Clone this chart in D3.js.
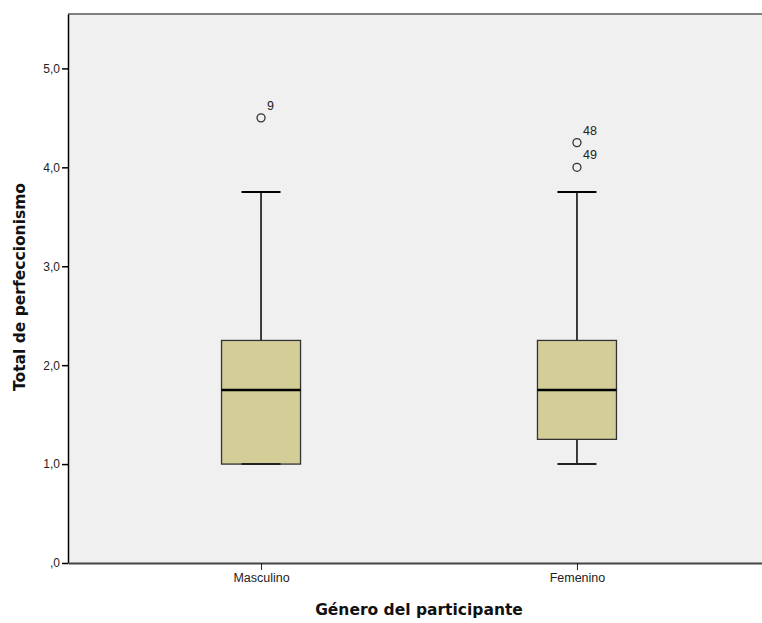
<!DOCTYPE html>
<html><head><meta charset="utf-8">
<script src="https://cdn.jsdelivr.net/npm/d3@7"></script>
<style>body{margin:0;background:#fff;}svg{display:block;font-family:Arial,"Liberation Sans",sans-serif;}</style>
</head><body>
<svg id="c" width="762" height="623"></svg>
<script>
const categories = ["Masculino", "Femenino"];
const whiskerLow = [1.0, 1.0];
const q1 = [1.0, 1.25];
const median = [1.75, 1.75];
const q3 = [2.25, 2.25];
const whiskerHigh = [3.75, 3.75];
const outlierCat = ["Masculino", "Femenino", "Femenino"];
const outlierVal = [4.5, 4.25, 4.0];
const outlierLabel = ["9", "48", "49"];
const yTicks = [0, 1, 2, 3, 4, 5];

(function(){
const svg = d3.select("#c");
const pLeft = 68, pTop = 14, pBottom = 563, pRight = 770;
const x = d3.scalePoint().domain(categories).range([pLeft, pRight]).padding(0.611);
const y = d3.scaleLinear().domain([0, 5.55]).range([pBottom, pTop]);

svg.append("rect").attr("x", pLeft).attr("y", pTop).attr("width", pRight - pLeft).attr("height", pBottom - pTop).attr("fill", "#f0f0f0");
svg.append("line").attr("x1", pLeft).attr("x2", 762).attr("y1", pTop).attr("y2", pTop).attr("stroke", "#808080").attr("stroke-width", 2);

const fmt = v => v === 0 ? ",0" : d3.format(".1f")(v).replace(".", ",");
const yAxis = svg.append("g").attr("transform", `translate(${pLeft},0)`)
  .call(d3.axisLeft(y).tickValues(yTicks).tickFormat(fmt).tickSize(6).tickSizeOuter(0).tickPadding(2));
yAxis.select(".domain").attr("stroke", "#000").attr("stroke-width", 1.5);
yAxis.selectAll("text").attr("font-size", 12).attr("fill", "#222").attr("font-family", "Arial, 'Liberation Sans', sans-serif");
yAxis.selectAll("line").attr("stroke", "#000").attr("stroke-width", 1.5);

const xAxis = svg.append("g").attr("transform", `translate(0,${pBottom})`)
  .call(d3.axisBottom(x).tickSize(7).tickPadding(3).tickSizeOuter(0));
xAxis.select(".domain").attr("stroke", "#444").attr("stroke-width", 2);
xAxis.selectAll("text").attr("font-size", 12.5).attr("fill", "#222").attr("font-family", "Arial, 'Liberation Sans', sans-serif");
xAxis.selectAll("line").attr("stroke", "#222");

const boxW = 79, capW = 39;
categories.forEach((c, i) => {
  const cx = x(c);
  const g = svg.append("g");
  g.append("line").attr("x1", cx).attr("x2", cx).attr("y1", y(whiskerHigh[i])).attr("y2", y(q3[i])).attr("stroke", "#000").attr("stroke-width", 1.5);
  g.append("line").attr("x1", cx).attr("x2", cx).attr("y1", y(q1[i])).attr("y2", y(whiskerLow[i])).attr("stroke", "#000").attr("stroke-width", 1.5);
  g.append("line").attr("x1", cx - capW/2).attr("x2", cx + capW/2).attr("y1", y(whiskerHigh[i])).attr("y2", y(whiskerHigh[i])).attr("stroke", "#000").attr("stroke-width", 2);
  g.append("rect").attr("x", cx - boxW/2).attr("y", y(q3[i])).attr("width", boxW).attr("height", y(q1[i]) - y(q3[i]))
    .attr("fill", "#d3ce97").attr("stroke", "#333").attr("stroke-width", 1.3);
  g.append("line").attr("x1", cx - capW/2).attr("x2", cx + capW/2).attr("y1", y(whiskerLow[i])).attr("y2", y(whiskerLow[i])).attr("stroke", "#222").attr("stroke-width", 2);
  g.append("line").attr("x1", cx - boxW/2).attr("x2", cx + boxW/2).attr("y1", y(median[i])).attr("y2", y(median[i])).attr("stroke", "#000").attr("stroke-width", 2.5);
});

outlierVal.forEach((v, i) => {
  const cx = x(outlierCat[i]);
  svg.append("circle").attr("cx", cx).attr("cy", y(v)).attr("r", 4).attr("fill", "none").attr("stroke", "#333").attr("stroke-width", 1.3);
  svg.append("text").attr("x", cx + 6).attr("y", y(v) - 8).attr("font-size", 12.5).attr("fill", "#222").text(outlierLabel[i]);
});

svg.append("text").attr("transform", `translate(25,287) rotate(-90)`).attr("text-anchor", "middle")
  .attr("font-size", 15.5).attr("font-weight", "bold").attr("fill", "#111").attr("font-family", "'DejaVu Sans', sans-serif").text("Total de perfeccionismo");
svg.append("text").attr("x", 419).attr("y", 615).attr("text-anchor", "middle")
  .attr("font-size", 15.5).attr("font-weight", "bold").attr("fill", "#111").attr("font-family", "'DejaVu Sans', sans-serif").text("Género del participante");
})();
</script>
</body></html>
